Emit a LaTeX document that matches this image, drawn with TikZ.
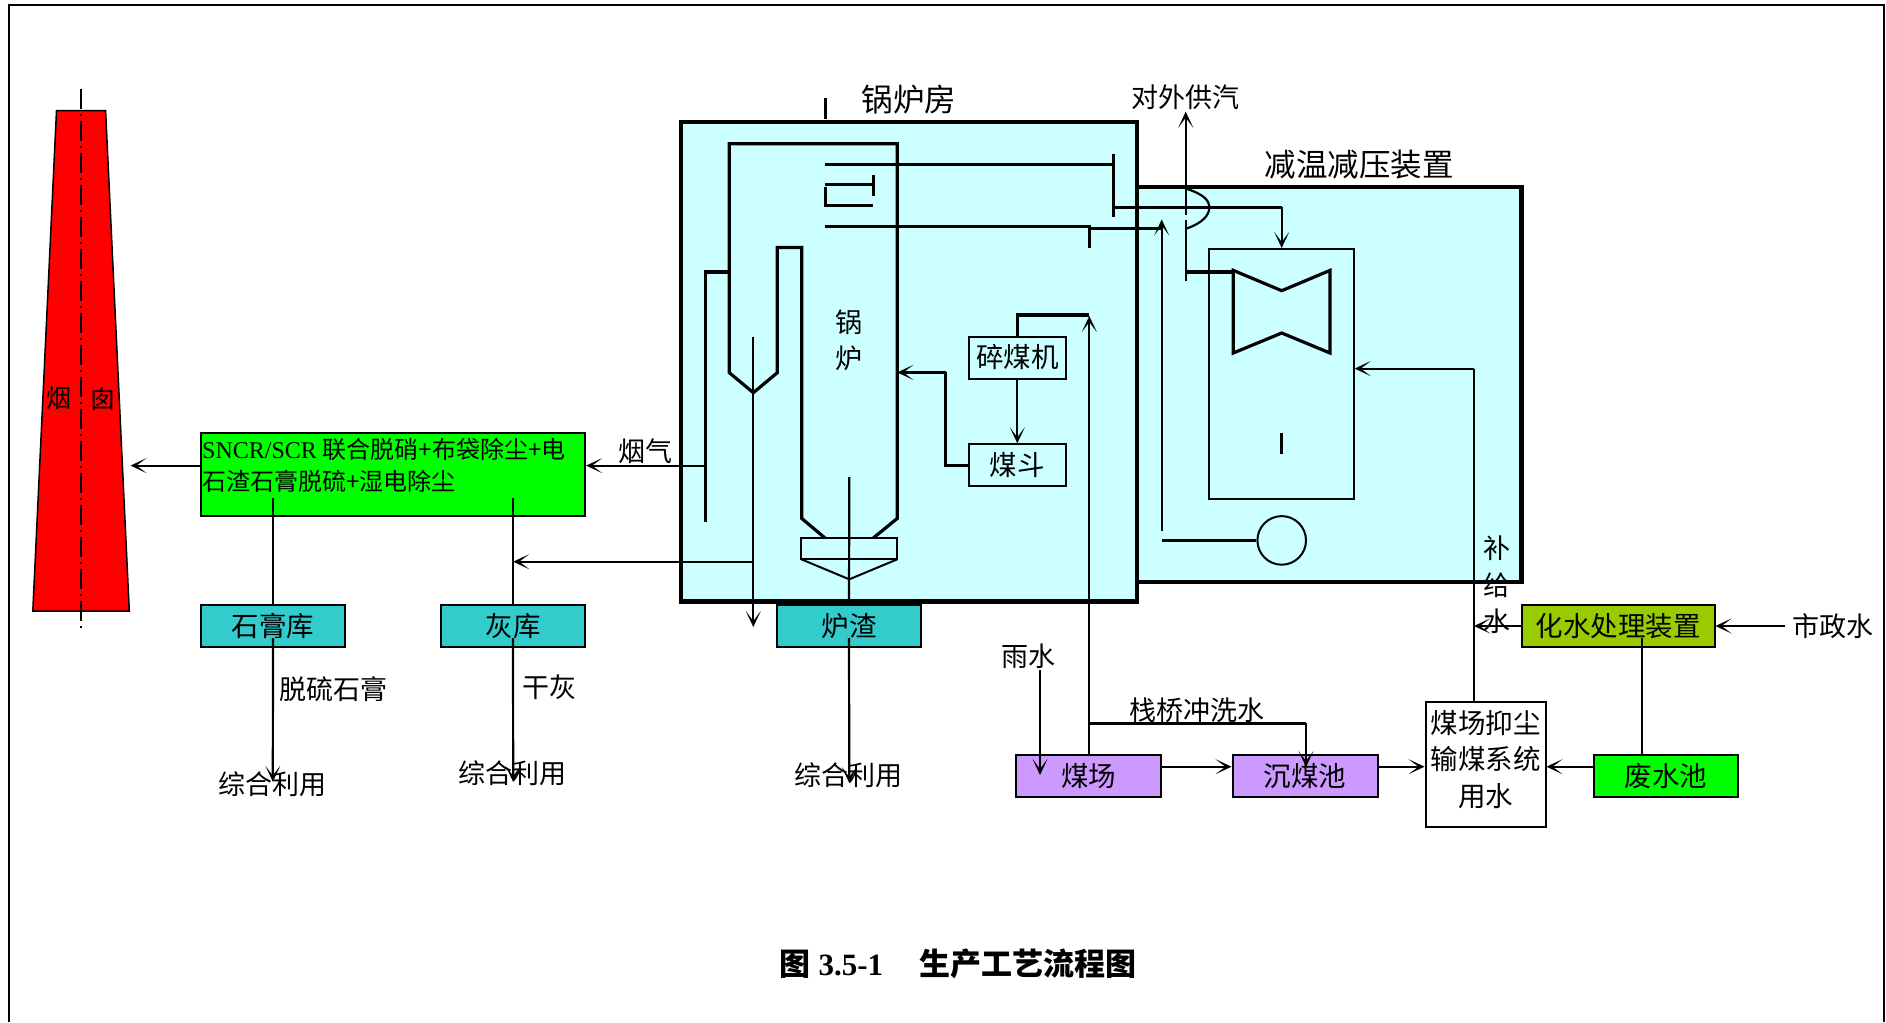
\documentclass[tikz,border=0pt]{standalone}
\usepackage{fontspec}
\setmainfont{Liberation Serif}
\newfontfamily\cjk{Noto Sans CJK SC}
\usetikzlibrary{arrows.meta, calc}
\definecolor{roomcyan}{RGB}{204, 255, 255}
\definecolor{storeteal}{RGB}{51, 204, 204}
\definecolor{yardpurple}{RGB}{204, 153, 255}
\definecolor{treatlime}{RGB}{153, 204, 0}
\definecolor{purgegreen}{RGB}{0, 255, 0}
\definecolor{stackred}{RGB}{255, 0, 0}
\tikzset{
  txt/.style       = {inner sep=0pt, font=\cjk\fontsize{27}{36.5}\selectfont, align=center},
  txtbig/.style    = {inner sep=0pt, font=\cjk\fontsize{31.5}{31.5}\selectfont},
  room/.style      = {draw, line width=4.5pt, fill=roomcyan},
  plain/.style     = {rectangle, draw, line width=2pt, inner sep=0pt, font=\cjk\fontsize{27.5}{36.5}\selectfont, align=center},
  store/.style     = {plain, fill=storeteal, minimum width=144.3pt, minimum height=42pt},
  yardbox/.style   = {plain, fill=yardpurple, minimum width=145pt, minimum height=42.3pt},
  coalbox/.style   = {plain, minimum width=96.7pt, minimum height=42pt},
  flow/.style      = {-{Stealth[length=16pt,width=15pt,inset=10pt]}, line width=2.2pt},
  line/.style      = {line width=2.2pt},
  pipe/.style      = {line width=3.2pt},
}
\begin{document}
\begin{tikzpicture}[x=1pt, y=-1pt]
  \useasboundingbox (0,0) rectangle (1886,1022);
  \draw[line width=2.5pt] (9,1022) -- (9,5) -- (1884,5) -- (1884,1022);

  \filldraw[fill=stackred, line width=1.5pt] (56.5,110.7) -- (105.6,110.7) -- (129.3,611) -- (32.8,611) -- cycle;
  \draw[line width=1.8pt, dash pattern=on 20pt off 5pt on 2pt off 5pt] (80.7,89.4) -- (80.7,631);
  \node[txt, font=\cjk\fontsize{25}{25}\selectfont] (stackl) at (59.3,398.5) {烟};
  \node[txt, font=\cjk\fontsize{25}{25}\selectfont] (stackr) at (102.8,398.5) {囱};

  \draw[room] (1137,187) rectangle (1521.7,582);
  \draw[room] (681,122) rectangle (1137,601.5);
  \node[txtbig] (roomlabel) at (909,100) {锅炉房};
  \node[txtbig] (reducelabel) at (1359,165) {减温减压装置};
  \node[txt] (steamout) at (1185,97) {对外供汽};

  % flue gas treatment
  \node[plain, fill=purgegreen, minimum width=384.3pt, minimum height=83.5pt] (flue) at (393,474.7) {};
  \node[anchor=west, inner sep=0pt, font=\fontsize{24}{24}\selectfont] (fluea) at (202,449.5) {SNCR/SCR {\cjk 联合脱硝+布袋除尘+电}};
  \node[anchor=west, inner sep=0pt, font=\cjk\fontsize{24}{24}\selectfont] (flueb) at (202,481) {石渣石膏脱硫+湿电除尘};
  \node[store] (gypsum) at (273,626) {石膏库};
  \node[store] (ash) at (513,626) {灰库};
  \node[store] (slag) at (849,626) {炉渣};
  \node[txt] (gypsumtxt) at (333,688.8) {脱硫石膏};
  \node[txt] (ashtxt) at (549.5,687) {干灰};
  \node[txt] (gypsumuse) at (272.6,784) {综合利用};
  \node[txt] (ashuse) at (512.5,773.7) {综合利用};
  \node[txt] (slaguse) at (848,775.6) {综合利用};
  \node[txt] (gastxt) at (645,451) {烟气};

  \coordinate (stackin) at (130.5,465.6);
  \coordinate (bagout) at (705.7,465.6);
  \coordinate (gypsumin) at (272.8,497.6);
  \coordinate (ashin) at (513.2,497.6);
  \coordinate (gypsumtip) at (272.8,781.7);
  \coordinate (ashtip) at (513.2,782);
  \coordinate (slagtip) at (849.3,783);
  \draw[flow] (flue.west |- stackin) -- (stackin);
  \draw[flow] (bagout) -- (flue.east |- bagout);
  \draw[line] (gypsumin) -- (gypsumin |- gypsum.north);
  \draw[line] (ashin) -- (ashin |- ash.north);
  \draw[flow] ($(gypsum.south)+(0,-10)$) -- (gypsumtip);
  \draw[flow] ($(ash.south)+(0,-10)$) -- (ashtip);
  \draw[flow] ($(slag.south)+(0,-10)$) -- (slagtip);

  % boiler
  \draw[pipe] (705.7,521.5) -- (705.7,272) -- (729.3,272);
  \draw[pipe] (825,538) -- (801.7,518.4) -- (801.7,247.4) -- (777.3,247.4) -- (777.3,372.7) -- (753.3,392.7) -- (729.3,372.7)
    -- (729.3,143.7) -- (897.3,143.7) -- (897.3,518.4) -- (873.3,538);
  \draw[line width=2pt] (801.3,538) rectangle (897.3,559.3);
  \draw[line width=2pt] (801.3,559.3) -- (849.3,579.3) -- (897.3,559.3);
  \draw[line] (849.3,477) -- (slag.north);
  \node[txt] (boilertxt) at (849,340.5) {锅\\炉};

  \coordinate (hopperup) at (753.3,336.5);
  \coordinate (hopperdown) at (753.3,627);
  \coordinate (hopperturn) at (753.3,561.7);
  \draw[flow] (hopperup) -- (hopperdown);
  \draw[flow] (hopperturn) -- (ashin |- hopperturn);

  \draw[pipe] (825.3,98) -- (825.3,118.6);
  \draw[pipe] (825.3,164.4) -- (1113.3,164.4);
  \draw[pipe] (1113.3,154) -- (1113.3,216.7);
  \draw[pipe] (825.3,184.3) -- (873.3,184.3);
  \draw[pipe] (873.3,175.4) -- (873.3,196);
  \draw[pipe] (825.3,186.7) -- (825.3,207.4);
  \draw[pipe] (825.3,205.7) -- (873.3,205.7);
  \draw[pipe] (825.3,226.7) -- (1089.3,226.7) -- (1089.3,247.7);
  \draw[pipe] (1089.3,228.4) -- (1161.7,228.4);

  % coal feed
  \node[coalbox] (crusher) at (1017.3,357.5) {碎煤机};
  \node[coalbox] (hopper) at (1017.3,465.3) {煤斗};
  \coordinate (boilerin) at (897.3,372.4);
  \coordinate (feedturn) at (945.7,372.4);
  \draw[flow] (crusher) -- (hopper);
  \draw[pipe] (hopper.west) -- (feedturn |- hopper.west) -- (feedturn);
  \draw[flow] (feedturn) -- (boilerin);

  % turbine
  \node[rectangle, draw, line width=2pt, minimum width=144.4pt, minimum height=250.4pt, inner sep=0pt] (turbhouse) at (1281.5,374.2) {};
  \draw[pipe] (1233.3,270.4) -- (1281.7,290.7) -- (1330,270.4) -- (1330,353) -- (1281.7,333) -- (1233.3,353) -- cycle;
  \draw[pipe] (1281.7,433) -- (1281.7,453.6);
  \node[circle, draw, line width=2pt, minimum size=48.6pt, inner sep=0pt] (pump) at (1281.7,540.4) {};
  \coordinate (condend) at (1161.7,540.4);
  \draw[pipe] (pump.west) -- (condend);
  \draw[flow] (1161.7,531) -- (1161.7,219.5);
  \coordinate (steamturn) at (1281.7,207.4);
  \draw[pipe] (1113.3,207.4) -- (steamturn);
  \draw[flow] (steamturn) -- (turbhouse.north -| steamturn);
  \draw[flow] (1185.7,215) -- (1185.7,111.7);
  \draw[line] (1185.7,219.5) -- (1185.7,281.4);
  \draw[line] (1185.7,188.5) .. controls (1203,194) and (1209.3,200) .. (1209.3,207.4) .. controls (1209.3,215) and (1203,223) .. (1185.7,228.8);
  \draw[pipe] (1185.7,272) -- (1233.3,272);

  % water
  \node[yardbox] (yard) at (1088.7,776) {煤场};
  \node[yardbox] (settle) at (1305,776) {沉煤池};
  \node[plain, minimum width=120pt, minimum height=125.6pt] (dust) at (1485.5,764.5) {};
  \node[txt, font=\cjk\fontsize{27.5}{36.5}\selectfont] (dusttxt) at (1485.5,759.5) {煤场抑尘\\输煤系统\\用水};
  \node[plain, fill=purgegreen, minimum width=144.5pt, minimum height=42.3pt] (waste) at (1666,776) {废水池};
  \node[plain, fill=treatlime, minimum width=193pt, minimum height=42.3pt] (treat) at (1618,626) {化水处理装置};
  \node[txt] (citytxt) at (1833,626) {市政水};
  \node[txt] (raintxt) at (1028.7,656) {雨水};
  \node[txt] (washtxt) at (1197,710) {栈桥冲洗水};
  \node[txt] (makeuptxt) at (1497,585) {补\\给\\水};

  \coordinate (rowfeed) at (0,766.7);
  \coordinate (rainend) at (1040,775);
  \coordinate (rainstart) at (1040,670);
  \coordinate (washturn) at (1306,723.3);
  \coordinate (washstart) at (1089.3,723.3);
  \coordinate (riserturn) at (1474,368.6);
  \coordinate (cityin) at (1785,626);
  \coordinate (wasteup) at (1642,755);
  \coordinate (treatdn) at (1642,638);
  \draw[flow] (washstart |- yard.north) -- (1089.3,316);
  \draw[pipe] (crusher.north) -- (1017.3,315) -- (1089.3,315);
  \draw[flow] (rainstart) -- (rainend);
  \draw[pipe, line width=3.5pt] (washstart) -- (washturn);
  \draw[flow] (washturn) -- (1306,767);
  \draw[flow] (yard.east |- rowfeed) -- (settle.west |- rowfeed);
  \draw[flow] (settle.east |- rowfeed) -- (dust.west |- rowfeed);
  \draw[flow] (waste.west |- rowfeed) -- (dust.east |- rowfeed);
  \draw[line width=2.8pt] (riserturn |- dust.north) -- (riserturn);
  \draw[flow] (riserturn) -- (turbhouse.east |- riserturn);
  \draw[flow] (treat.west) -- (riserturn |- treat.west);
  \draw[flow] (cityin) -- (treat.east);
  \draw[line] (treatdn) -- (wasteup);

  \node[inner sep=0pt, font=\fontsize{31}{31}\selectfont\bfseries] (title) at (958,964) {{\cjk 图} 3.5-1\hspace{36pt}{\cjk 生产工艺流程图}};
\end{tikzpicture}
\end{document}
